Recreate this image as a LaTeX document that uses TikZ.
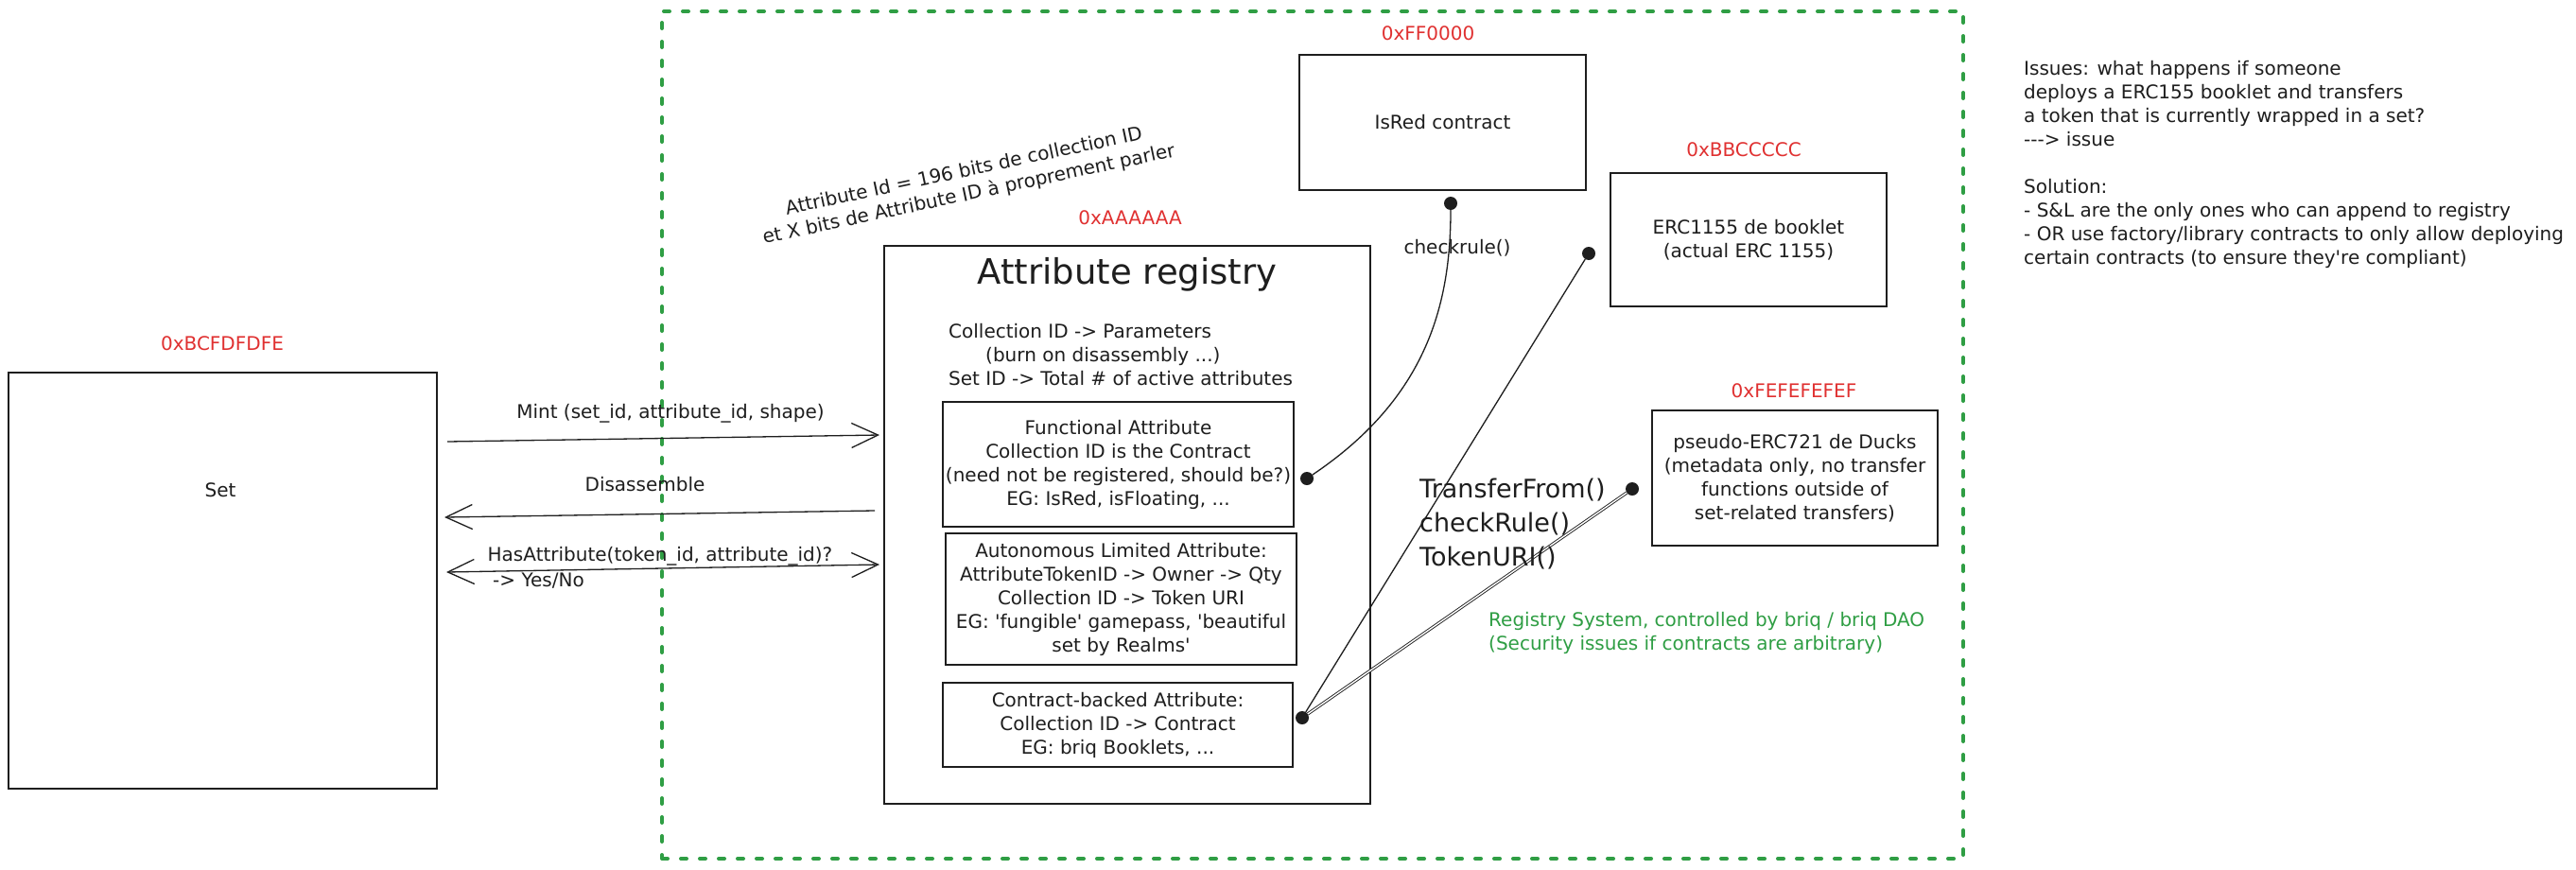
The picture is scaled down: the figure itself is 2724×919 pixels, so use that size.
\documentclass[tikz,border=0pt]{standalone}
\usepackage{fontspec}
\setmainfont{DejaVu Sans}[Ligatures=TeXOff]
\usetikzlibrary{arrows.meta}
\definecolor{ink}{HTML}{1E1E1E}
\definecolor{exred}{HTML}{E03131}
\definecolor{exgreen}{HTML}{2F9E44}
\begin{document}
\begin{tikzpicture}[x=1pt,y=-1pt,
  box/.style={draw=ink, line width=1.5pt, rectangle, inner sep=0pt},
  txt/.style={font=\fontsize{20}{25}\selectfont, text=ink, inner sep=0pt},
  addr/.style={font=\fontsize{20}{25}\selectfont, text=exred, inner sep=0pt},
  dotn/.style={circle, fill=ink, minimum size=14pt, inner sep=0pt},
  conn/.style={draw=ink, line width=1.3pt},
  arr/.style={draw=ink, line width=1.3pt, -{Straight Barb[length=28pt,width=26pt]}},
  dblarr/.style={draw=ink, line width=1.3pt, {Straight Barb[length=28pt,width=26pt]}-{Straight Barb[length=28pt,width=26pt]}},
  zone/.style={draw=exgreen, line width=4pt, line cap=round, dash pattern=on 6pt off 14pt}
]
\useasboundingbox (0,0) rectangle (2724,919);
\fill[white] (0,0) rectangle (2724,919);

% green zone
\node[zone, rectangle, minimum width=1376pt, minimum height=896pt, inner sep=0pt] (zonebox) at (1388,460) {};

% Set
\node[box, minimum width=453pt, minimum height=440pt] (set) at (235.5,614) {};
\node[txt] (settxt) at (233,518) {Set};
\node[addr] (setaddr) at (235,363) {0xBCFDFDFE};

% registry
\node[box, minimum width=514pt, minimum height=590pt] (reg) at (1192,555) {};
\node[font=\fontsize{37}{46}\selectfont, text=ink, inner sep=0pt] (regtitle) at (1192,290) {Attribute registry};
\node[addr] (regaddr) at (1195,230) {0xAAAAAA};
\node[txt, align=left, anchor=west] (regmaps) at (1003,375) {Collection ID -> Parameters\\\hspace*{39pt}(burn on disassembly ...)\\Set ID -> Total \# of active attributes};

\node[box, txt, align=center, minimum width=371pt, minimum height=132pt] (func) at (1182.5,491) {Functional Attribute\\Collection ID is the Contract\\(need not be registered, should be?)\\EG: IsRed, isFloating, ...};
\node[box, txt, align=center, minimum width=371pt, minimum height=139pt] (auto) at (1185.5,633.5) {Autonomous Limited Attribute:\\AttributeTokenID -> Owner -> Qty\\Collection ID -> Token URI\\EG: 'fungible' gamepass, 'beautiful\\set by Realms'};
\node[box, txt, align=center, minimum width=370pt, minimum height=89pt] (cback) at (1182,766.5) {Contract-backed Attribute:\\Collection ID -> Contract\\EG: briq Booklets, ...};

\node[txt, rotate=12, align=center] (attrid) at (1022,194) {Attribute Id = 196 bits de collection ID\\et X bits de Attribute ID à proprement parler};

% contracts
\node[box, txt, minimum width=303pt, minimum height=143pt] (isred) at (1525.5,129.5) {IsRed contract};
\node[addr] (isredaddr) at (1510,35) {0xFF0000};
\node[box, txt, align=center, minimum width=292pt, minimum height=141pt] (erc1155) at (1849,253.5) {ERC1155 de booklet\\(actual ERC 1155)};
\node[addr] (ercaddr) at (1844,158) {0xBBCCCCC};
\node[box, txt, align=center, minimum width=302pt, minimum height=143pt] (ducks) at (1898,505.5) {pseudo-ERC721 de Ducks\\(metadata only, no transfer\\functions outside of\\set-related transfers)};
\node[addr] (ducksaddr) at (1897,413) {0xFEFEFEFEF};

% dots
\node[dotn] (dIsRed) at (1534,215) {};
\node[dotn] (dFunc) at (1382,506) {};
\node[dotn] (dErc) at (1680,268) {};
\node[dotn] (dContract) at (1377,759) {};
\node[dotn] (dDuck) at (1726,517) {};

% connectors
\draw[conn] (dFunc) .. controls (1510,420) and (1534,320) .. (dIsRed);
\draw[conn] (dContract) -- (dErc);
\draw[draw=ink, line width=0.9pt, double=white, double distance=1.4pt] (dContract) -- (dDuck);

\node[txt] (chk) at (1541,262) {checkrule()};
\node[font=\fontsize{27}{36}\selectfont, text=ink, align=left, anchor=west, inner sep=0pt] (calls) at (1501,554) {TransferFrom()\\checkRule()\\TokenURI()};
\node[txt, text=exgreen, align=left, anchor=west] (regsys) at (1574,669.5) {Registry System, controlled by briq / briq DAO\\(Security issues if contracts are arbitrary)};

% arrows between Set and registry
\coordinate (m1) at (473,467); \coordinate (m2) at (930,460);
\coordinate (d1) at (925,540); \coordinate (d2) at (470,547);
\coordinate (h1) at (472,605); \coordinate (h2) at (930,597);
\draw[arr] (m1) -- (m2);
\draw[arr] (d1) -- (d2);
\draw[dblarr] (h1) -- (h2);
\node[txt] (mintl) at (709,437) {Mint (set\_id, attribute\_id, shape)};
\node[txt] (disl) at (682,512) {Disassemble};
\node[txt] (hasl) at (698,588) {HasAttribute(token\_id, attribute\_id)?};
\node[txt, anchor=west] (yesno) at (521,614) {-> Yes/No};

% notes
\node[txt, align=left, anchor=west] (notes) at (2140,174) {Issues: what happens if someone\\deploys a ERC155 booklet and transfers\\a token that is currently wrapped in a set?\\---> issue\\[25pt]Solution:\\- S\&L are the only ones who can append to registry\\- OR use factory/library contracts to only allow deploying\\certain contracts (to ensure they're compliant)};
\end{tikzpicture}
\end{document}
